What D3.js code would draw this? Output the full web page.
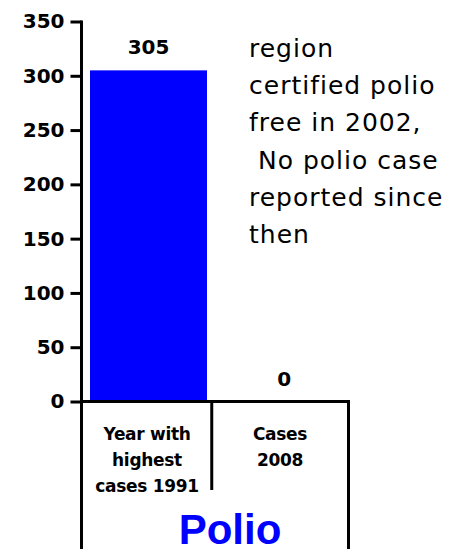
<!DOCTYPE html>
<html><head><meta charset="utf-8">
<script src="https://cdn.jsdelivr.net/npm/d3@7"></script>
<style>body{margin:0;background:#fff}svg{display:block}</style>
</head><body>
<svg id="c" width="458" height="549"></svg>
<script>
const categories = [["Year with","highest","cases 1991"],["Cases","2008"]];
const values = [305, 0];
const yTicks = [0,50,100,150,200,250,300,350];
const noteLines = ["region","certified polio","free in 2002,"," No polio case","reported since","then"];
const title = "Polio";

const svg = d3.select("#c");
const x = d3.scaleBand().domain(d3.range(values.length)).range([81.5, 345]);
const y = d3.scaleLinear().domain([0, 350]).range([401.5, 21.5]);
const F = "DejaVu Sans, sans-serif";
const axX = 81.5, rightX = 348.5, divX = x(1) - 1.5;

// bars
svg.selectAll("rect.bar").data(values).enter().append("rect")
  .attr("x", (d,i)=>x(i)+8.5).attr("width", 117)
  .attr("y", d=>y(d)).attr("height", d=>y(0)-y(d))
  .attr("fill", "#0000ff");

// value labels
svg.selectAll("text.val").data(values).enter().append("text")
  .attr("x", (d,i)=>x(i)+8.5+58.5 + (i?4:0)).attr("y", d=>y(d)-16)
  .attr("text-anchor","middle").attr("font-family",F).attr("font-weight","bold")
  .attr("font-size",20).text(d=>d);

// y axis
const ya = svg.append("g").attr("transform",`translate(${axX},0)`)
  .call(d3.axisLeft(y).tickValues(yTicks).tickSize(11).tickPadding(6).tickSizeOuter(0));
ya.select(".domain").remove();
ya.selectAll(".tick line").attr("stroke","#000").attr("stroke-width",3);
ya.selectAll(".tick text").attr("font-family",F).attr("font-weight","bold").attr("font-size",20).attr("fill","#000");
// y axis line extending to bottom
svg.append("line").attr("x1",axX).attr("x2",axX).attr("y1",y(350)-1).attr("y2",549).attr("stroke","#000").attr("stroke-width",3);
// x axis line
svg.append("line").attr("x1",axX).attr("x2",rightX+1.5).attr("y1",y(0)).attr("y2",y(0)).attr("stroke","#000").attr("stroke-width",3);
// divider & right border
svg.append("line").attr("x1",divX).attr("x2",divX).attr("y1",y(0)).attr("y2",490).attr("stroke","#000").attr("stroke-width",3);
svg.append("line").attr("x1",rightX).attr("x2",rightX).attr("y1",y(0)).attr("y2",549).attr("stroke","#000").attr("stroke-width",3);

// category labels
const catCx = [147, 280];
categories.forEach((lines,i)=>{
  lines.forEach((t,j)=>{
    svg.append("text").attr("x", catCx[i]).attr("y", 440+j*26)
      .attr("text-anchor","middle").attr("font-family",F).attr("font-weight","bold")
      .attr("font-size",17).attr("letter-spacing",-0.3).text(t);
  });
});

// title
svg.append("text").attr("x", 230).attr("y", 544).attr("text-anchor","middle")
  .attr("font-family","Liberation Sans, Arial, sans-serif").attr("font-weight","bold")
  .attr("font-size",42).attr("fill","#0000ff").text(title);

// annotation
noteLines.forEach((t,j)=>{
  svg.append("text").attr("x",249).attr("y",57+j*37.2).attr("font-family",F)
    .attr("font-size",25).attr("letter-spacing",1).attr("xml:space","preserve")
    .style("white-space","pre").text(t);
});
</script>
</body></html>
